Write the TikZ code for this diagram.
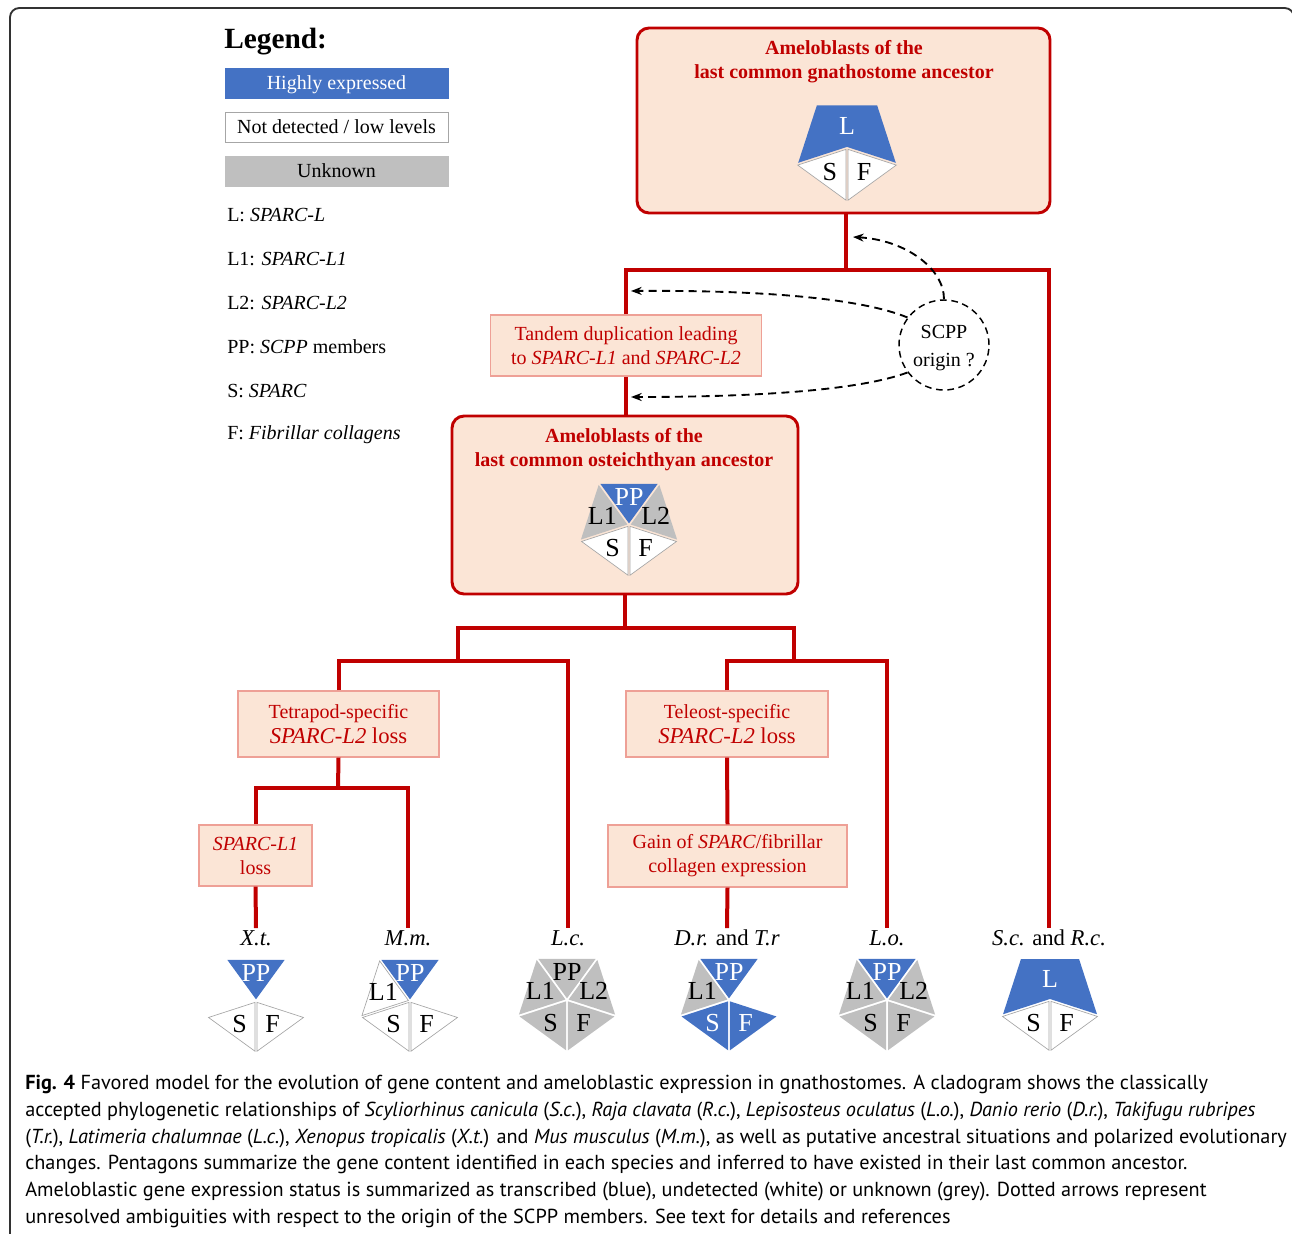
\documentclass[tikz,border=0pt]{standalone}
\usepackage{fontspec}
\setmainfont{Liberation Serif}
\newfontfamily\capfont{PT Sans}
\usetikzlibrary{calc,arrows.meta}

\definecolor{hiblue}{RGB}{68,114,196}
\definecolor{unkgray}{RGB}{191,191,191}
\definecolor{boxred}{RGB}{192,0,0}
\definecolor{peach}{RGB}{251,229,214}
\definecolor{tagedge}{RGB}{238,160,150}
\definecolor{framegray}{RGB}{50,50,50}

\tikzset{
  tree/.style={boxred, line width=3pt},
  ancbox/.style={draw=boxred, fill=peach, line width=2.2pt, rounded corners=9pt},
  anctitle/.style={text=boxred, font=\fontsize{15}{18}\selectfont\bfseries, align=center, inner sep=0pt},
  tagbox/.style={draw=tagedge, fill=peach, line width=0.9pt, text=boxred, font=\fontsize{15}{18}\selectfont, align=center, inner sep=0pt},
  legbox/.style={minimum width=167pt, minimum height=22.5pt, font=\fontsize{15}{18}\selectfont, inner sep=0pt, text height=10pt, text depth=0pt},
  legtext/.style={anchor=west, font=\fontsize{15}{18}\selectfont, inner sep=0pt},
  species/.style={font=\fontsize{17}{19}\selectfont, inner sep=1pt, text height=12pt, text depth=2pt},
  hipiece/.style={fill=hiblue},
  nopiece/.style={fill=white, draw=gray!70, line width=0.5pt},
  unkpiece/.style={fill=unkgray},
  pentext/.style={font=\fontsize{19.5}{19.5}\selectfont, inner sep=0pt},
  scpparrow/.style={-{Stealth[length=8pt,width=6pt]}, line width=1.4pt, dash pattern=on 6pt off 4pt},
}

% one triangle of a pentagon: centre, radius, from angle, to angle, style, label, label colour
\newcommand{\penpiece}[7]{%
  \path (#1) ++(#3:#2) coordinate (pa) (#1) ++(#4:#2) coordinate (pb);
  \coordinate (pm) at ($(pa)!0.5!(pb)$);
  \coordinate (pg) at ($(#1)!0.667!(pm)$);
  \path[#5] ($(pg)!0.94!(#1)$) -- ($(pg)!0.94!(pa)$) -- ($(pg)!0.94!(pb)$) -- cycle;
  \node[pentext, text=#7] (#1-#3) at (pg) {#6};
}
% the upper three triangles merged (SPARC-L)
\newcommand{\penquad}[3]{%
  \path (#1) ++(162:#2) coordinate (pa) (#1) ++(234:#2) coordinate (pb)
        (#1) ++(306:#2) coordinate (pc) (#1) ++(18:#2) coordinate (pd)
        (#1) ++(270:{0.4*#2}) coordinate (pg);
  \path[hipiece] ($(pg)!0.95!(#1)$) -- ($(pg)!0.95!(pa)$) -- ($(pg)!0.95!(pb)$)
        -- ($(pg)!0.95!(pc)$) -- ($(pg)!0.95!(pd)$) -- cycle;
  \node[pentext, text=white] (#1-L) at (pg) {#3};
}

\begin{document}
\begin{tikzpicture}[x=0.75pt,y=0.75pt,yscale=-1,xscale=1]
\useasboundingbox (0,0) rectangle (1292,1234);

% frame
\draw[framegray, line width=1.4pt, rounded corners=7pt] (10,1250) -- (10,8) -- (1294,8) -- (1294,1250);

% Legend
\node[anchor=west, font=\fontsize{22}{24}\selectfont\bfseries, inner sep=0pt] (legtitle) at (224,42) {Legend:};
\node[legbox, fill=hiblue, draw=hiblue, text=white] (leghigh) at (336.5,83) {Highly expressed};
\node[legbox, fill=white, draw=gray!70] (legnone) at (336.5,127) {Not detected / low levels};
\node[legbox, fill=unkgray, draw=gray!50] (legunk) at (336.5,171) {Unknown};
\node[legtext] (legL) at (227,215) {L: \textit{SPARC-L}};
\node[legtext] (legLone) at (227,259) {L1: \textit{SPARC-L1}};
\node[legtext] (legLtwo) at (227,303) {L2: \textit{SPARC-L2}};
\node[legtext] (legPP) at (227,347) {PP: \textit{SCPP} members};
\node[legtext] (legS) at (227,391) {S: \textit{SPARC}};
\node[legtext] (legF) at (227,435) {F: \textit{Fibrillar collagens}};

% Ancestor boxes
\node[ancbox, minimum width=309.75pt, minimum height=138.75pt] (gnath) at (843.5,120.5) {};
\node[anctitle] (gnathtitle) at (844,62) {Ameloblasts of the\\last common gnathostome ancestor};
\node[ancbox, minimum width=259.5pt, minimum height=133.5pt] (oste) at (625,505) {};
\node[anctitle] (ostetitle) at (624,450) {Ameloblasts of the\\last common osteichthyan ancestor};

% Event boxes
\node[tagbox, minimum width=203.25pt, minimum height=45.75pt] (tandem) at (626,345.5) {Tandem duplication leading\\to \textit{SPARC-L1} and \textit{SPARC-L2}};
\node[tagbox, minimum width=150.75pt, minimum height=49.5pt] (tetra) at (338.5,724) {Tetrapod-specific\\[1pt]{\fontsize{17}{20}\selectfont\textit{SPARC-L2} loss}};
\node[tagbox, minimum width=151.5pt, minimum height=49.5pt] (teleo) at (727,724) {Teleost-specific\\[1pt]{\fontsize{17}{20}\selectfont\textit{SPARC-L2} loss}};
\node[tagbox, minimum width=84.75pt, minimum height=45.75pt] (lossone) at (255.5,855.5) {\textit{SPARC-L1}\\loss};
\node[tagbox, minimum width=179.25pt, minimum height=46.5pt] (gain) at (727.5,856) {Gain of \textit{SPARC}/fibrillar\\collagen expression};

% Species
\node[species] (xt) at (256,939) {\textit{X.t.}};
\node[species] (mm) at (408,939) {\textit{M.m.}};
\node[species] (lc) at (568,939) {\textit{L.c.}};
\node[species] (dr) at (727,939) {\textit{D.r.} and \textit{T.r}};
\node[species] (lo) at (887,939) {\textit{L.o.}};
\node[species] (sc) at (1049,939) {\textit{S.c.} and \textit{R.c.}};

% Tree
\coordinate (root) at (846,270);
\coordinate (osplit) at (625,628);
\coordinate (tetj) at (458,661);
\coordinate (telj) at (794,661);
\coordinate (xmj) at (338,788);
\draw[tree] (root |- gnath.south) -- (root);
\draw[tree] (tandem.north) |- (root) -| (sc.north);
\draw[tree] (tandem.south) -- (tandem.south |- oste.north);
\draw[tree] (oste.south) -- (osplit);
\draw[tree] (tetj) |- (osplit) -| (telj);
\draw[tree] (tetra.north) |- (tetj) -| (lc.north);
\draw[tree] (teleo.north) |- (telj) -| (lo.north);
\draw[tree] (tetra.south) -- (xmj);
\draw[tree] (lossone.north) |- (xmj) -| (mm.north);
\draw[tree] (lossone.south) -- (xt.north);
\draw[tree] (teleo.south) -- (gain.north);
\draw[tree] (gain.south) -- (dr.north);

% SCPP origin
\node[draw, circle, line width=1.1pt, dash pattern=on 5pt off 3.5pt, minimum size=67.5pt, inner sep=0pt] (scpp) at (944,345) {};
\node[align=center, inner sep=0pt, font=\fontsize{15}{21}\selectfont] (scpptext) at (944,348) {SCPP\\origin ?};
\coordinate (tipa) at (853,237);
\coordinate (tipb) at (631,291);
\coordinate (tipc) at (631,397);
\draw[scpparrow] (scpp.north) .. controls (944,268) and (905,240) .. (tipa);
\draw[scpparrow] (scpp.143) .. controls (860,298) and (760,290) .. (tipb);
\draw[scpparrow] (scpp.217) .. controls (860,390) and (760,397) .. (tipc);

% Pentagons
\coordinate (pgn) at (847,148);
\penquad{pgn}{54}{L}
\penpiece{pgn}{54}{90}{162}{nopiece}{S}{black}
\penpiece{pgn}{54}{18}{90}{nopiece}{F}{black}

\coordinate (pos) at (629,525);
\penpiece{pos}{52}{234}{306}{hipiece}{PP}{white}
\penpiece{pos}{52}{162}{234}{unkpiece}{L1}{black}
\penpiece{pos}{52}{306}{378}{unkpiece}{L2}{black}
\penpiece{pos}{52}{90}{162}{nopiece}{S}{black}
\penpiece{pos}{52}{18}{90}{nopiece}{F}{black}

\coordinate (pxt) at (256,1001);
\penpiece{pxt}{52}{234}{306}{hipiece}{PP}{white}
\penpiece{pxt}{52}{90}{162}{nopiece}{S}{black}
\penpiece{pxt}{52}{18}{90}{nopiece}{F}{black}

\coordinate (pmm) at (410,1001);
\penpiece{pmm}{52}{234}{306}{hipiece}{PP}{white}
\penpiece{pmm}{52}{162}{234}{nopiece}{L1}{black}
\penpiece{pmm}{52}{90}{162}{nopiece}{S}{black}
\penpiece{pmm}{52}{18}{90}{nopiece}{F}{black}

\coordinate (plc) at (567,1000);
\penpiece{plc}{52}{234}{306}{unkpiece}{PP}{black}
\penpiece{plc}{52}{162}{234}{unkpiece}{L1}{black}
\penpiece{plc}{52}{306}{378}{unkpiece}{L2}{black}
\penpiece{plc}{52}{90}{162}{unkpiece}{S}{black}
\penpiece{plc}{52}{18}{90}{unkpiece}{F}{black}

\coordinate (pdr) at (729,1000);
\penpiece{pdr}{52}{234}{306}{hipiece}{PP}{white}
\penpiece{pdr}{52}{162}{234}{unkpiece}{L1}{black}
\penpiece{pdr}{52}{90}{162}{hipiece}{S}{white}
\penpiece{pdr}{52}{18}{90}{hipiece}{F}{white}

\coordinate (plo) at (887,1000);
\penpiece{plo}{52}{234}{306}{hipiece}{PP}{white}
\penpiece{plo}{52}{162}{234}{unkpiece}{L1}{black}
\penpiece{plo}{52}{306}{378}{unkpiece}{L2}{black}
\penpiece{plo}{52}{90}{162}{unkpiece}{S}{black}
\penpiece{plo}{52}{18}{90}{unkpiece}{F}{black}

\coordinate (psc) at (1050,1000);
\penquad{psc}{52}{L}
\penpiece{psc}{52}{90}{162}{nopiece}{S}{black}
\penpiece{psc}{52}{18}{90}{nopiece}{F}{black}

% Caption
\node[anchor=north west, inner sep=0pt, align=left, font=\capfont\fontsize{15.2}{20}\selectfont] (caption) at (25,1075) {%
\textbf{Fig. 4} Favored model for the evolution of gene content and ameloblastic expression in gnathostomes. A cladogram shows the classically\\
accepted phylogenetic relationships of \textit{Scyliorhinus canicula} (\textit{S.c.}), \textit{Raja clavata} (\textit{R.c.}), \textit{Lepisosteus oculatus} (\textit{L.o.}), \textit{Danio rerio} (\textit{D.r.}), \textit{Takifugu rubripes}\\
(\textit{T.r.}), \textit{Latimeria chalumnae} (\textit{L.c.}), \textit{Xenopus tropicalis} (\textit{X.t.}) and \textit{Mus musculus} (\textit{M.m.}), as well as putative ancestral situations and polarized evolutionary\\
changes. Pentagons summarize the gene content identified in each species and inferred to have existed in their last common ancestor.\\
Ameloblastic gene expression status is summarized as transcribed (blue), undetected (white) or unknown (grey). Dotted arrows represent\\
unresolved ambiguities with respect to the origin of the SCPP members. See text for details and references};

\end{tikzpicture}
\end{document}
